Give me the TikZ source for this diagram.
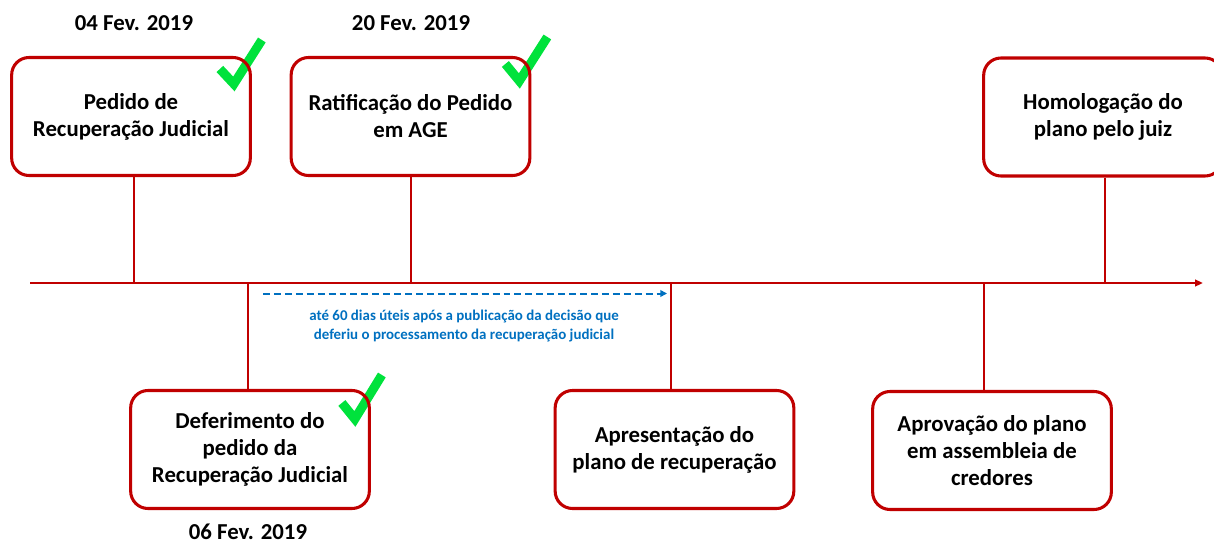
\documentclass[tikz,border=0pt]{standalone}
\usepackage{fontspec}
\setmainfont{Carlito}
\usetikzlibrary{arrows.meta}
\pgfdeclarelayer{back}
\pgfsetlayers{back,main}
\definecolor{tred}{RGB}{192,0,0}
\definecolor{tgreen}{RGB}{0,226,60}
\definecolor{tblue}{RGB}{0,112,192}
\tikzset{
  evbox/.style={draw=tred, line width=2.3pt, rounded corners=13pt, align=center,
    minimum width=179pt, minimum height=88.5pt, inner sep=2pt,
    font=\bfseries\fontsize{17.1}{20.2}\selectfont},
  datelbl/.style={font=\bfseries\fontsize{17.1}{20.2}\selectfont},
  tick/.style={draw=tred, line width=1.5pt},
  checkm/.style={draw=tgreen, line width=6.8pt},
  note/.style={text=tblue, align=center, font=\bfseries\fontsize{11.2}{14}\selectfont}
}
\begin{document}
\begin{tikzpicture}[x=0.75pt, y=-0.75pt]
\useasboundingbox (0,0) rectangle (1214,542);
% boxes
\node[evbox] (b1) at (131,116.5) {Pedido de\\Recuperação Judicial};
\node[evbox] (b2) at (410.5,116.5) {Ratificação do Pedido\\em AGE};
\node[evbox] (b3) at (1103,117) {Homologação do\\plano pelo juiz};
\node[evbox] (b4) at (250,449.5) {Deferimento do\\pedido da\\Recuperação Judicial};
\node[evbox] (b5) at (674.5,449.5) {Apresentação do\\plano de recuperação};
\node[evbox] (b6) at (992,450.5) {Aprovação do plano\\em assembleia de\\credores};
% dates
\node[datelbl] (d1) at (134,23) {04 Fev. 2019};
\node[datelbl] (d2) at (411,23) {20 Fev. 2019};
\node[datelbl] (d4) at (248,532) {06 Fev. 2019};
% timeline
\coordinate (tl0) at (30,283);
\coordinate (tl1) at (1203,283);
\draw[tick, -{Triangle[length=6pt,width=5pt]}] (tl0) -- (tl1);
\coordinate (t1) at (134,283);
\coordinate (t2) at (411,283);
\coordinate (t3) at (1105,283);
\coordinate (t4) at (248,283);
\coordinate (t5) at (671,283);
\coordinate (t6) at (984,283);
\draw[tick] (b1.south -| t1) -- (t1);
\draw[tick] (b2.south -| t2) -- (t2);
\draw[tick] (b3.south -| t3) -- (t3);
\draw[tick] (b4.north -| t4) -- (t4);
\draw[tick] (b5.north -| t5) -- (t5);
\draw[tick] (b6.north -| t6) -- (t6);
% dashed note arrow
\coordinate (n0) at (263,293.5);
\coordinate (n1) at (667,293.5);
\draw[tblue, line width=1.5pt, dash pattern=on 5.2pt off 3pt, -{Triangle[length=5pt,width=5pt]}] (n0) -- (n1);
\node[note] (nt) at (464,326) {até 60 dias úteis após a publicação da decisão que\\deferiu o processamento da recuperação judicial};
% check marks
\begin{pgfonlayer}{back}
\draw[checkm] ([shift={(-32,13)}]b1.north east) -- ([shift={(-18,28)}]b1.north east) -- ([shift={(10,-16)}]b1.north east);
\draw[checkm] ([shift={(-26,8)}]b2.north east) -- ([shift={(-12,25)}]b2.north east) -- ([shift={(16,-19)}]b2.north east);
\draw[checkm] ([shift={(-29,14)}]b4.north east) -- ([shift={(-16,30)}]b4.north east) -- ([shift={(11,-14)}]b4.north east);
\end{pgfonlayer}
\end{tikzpicture}
\end{document}
